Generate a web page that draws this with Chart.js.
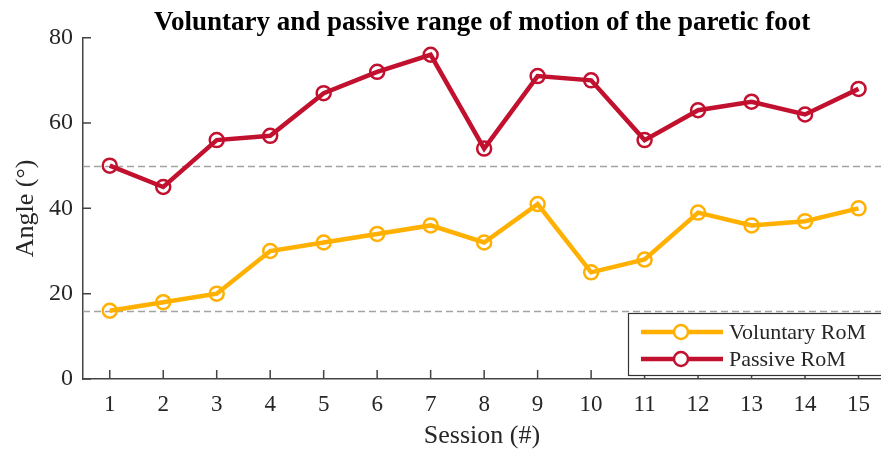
<!DOCTYPE html>
<html>
<head>
<meta charset="utf-8">
<title>Voluntary and passive range of motion</title>
<script src="https://cdn.jsdelivr.net/npm/chart.js@4.4.1/dist/chart.umd.min.js"></script>
<style>
  html, body { margin: 0; padding: 0; background: #fff; }
  #wrap { width: 881px; height: 450px; }
</style>
</head>
<body>
<div id="wrap"><canvas id="rom" width="881" height="450"></canvas></div>
<script>
  'use strict';

  // Session numbers and measured angles (degrees)
  var sessions = [1, 2, 3, 4, 5, 6, 7, 8, 9, 10, 11, 12, 13, 14, 15];
  var voluntaryRom = [16, 18, 20, 30, 32, 34, 36, 32, 41, 25, 28, 39, 36, 37, 40];
  var passiveRom = [50, 45, 56, 57, 67, 72, 76, 54, 71, 70, 56, 63, 65, 62, 68];
  var yTicks = [0, 20, 40, 60, 80];
  var refLines = [50, 16]; // dashed reference levels

  var colors = {
    voluntary: '#FFB000',
    passive: '#C2102F',
    axis: '#444444',
    text: '#262626',
    ref: '#a3a3a3'
  };
  var serif = '"Liberation Serif", "Times New Roman", serif';

  function toPoints(values) {
    return sessions.map(function (s, i) { return { x: s, y: values[i] }; });
  }

  function series(label, values, color) {
    return {
      label: label,
      data: toPoints(values),
      borderColor: color,
      backgroundColor: color,
      borderWidth: 4.5,
      pointRadius: 7,
      pointBorderWidth: 2.5,
      pointBackgroundColor: 'rgba(0,0,0,0)',
      pointBorderColor: color,
      pointHoverRadius: 7,
      tension: 0
    };
  }

  // Dashed horizontal reference lines behind the data
  var refLinePlugin = {
    id: 'refLines',
    beforeDatasetsDraw: function (chart) {
      var ctx = chart.ctx, area = chart.chartArea, y = chart.scales.y;
      ctx.save();
      ctx.strokeStyle = colors.ref;
      ctx.lineWidth = 1.3;
      ctx.setLineDash([7, 4]);
      refLines.forEach(function (v) {
        var py = Math.round(y.getPixelForValue(v)) + 0.5;
        ctx.beginPath();
        ctx.moveTo(area.left, py);
        ctx.lineTo(area.right, py);
        ctx.stroke();
      });
      ctx.restore();
    }
  };

  // Inward tick marks, like the original figure
  var tickPlugin = {
    id: 'inwardTicks',
    afterDraw: function (chart) {
      var ctx = chart.ctx, area = chart.chartArea;
      var x = chart.scales.x, y = chart.scales.y;
      ctx.save();
      ctx.strokeStyle = colors.axis;
      ctx.lineWidth = 1.5;
      ctx.beginPath();
      sessions.forEach(function (s) {
        var px = x.getPixelForValue(s);
        ctx.moveTo(px, area.bottom);
        ctx.lineTo(px, area.bottom - 9);
      });
      yTicks.forEach(function (v) {
        var py = y.getPixelForValue(v);
        ctx.moveTo(area.left, py);
        ctx.lineTo(area.left + 8, py);
      });
      ctx.stroke();
      ctx.restore();
    }
  };

  // Boxed legend in the lower right corner
  var legendPlugin = {
    id: 'boxLegend',
    afterDraw: function (chart) {
      var ctx = chart.ctx, area = chart.chartArea;
      var left = area.right - 253, top = area.bottom - 66;
      var bottom = area.bottom - 4, right = area.right + 2;
      ctx.save();
      ctx.fillStyle = '#fff';
      ctx.fillRect(left, top, right - left, bottom - top);
      ctx.strokeStyle = '#333';
      ctx.lineWidth = 1.2;
      ctx.strokeRect(left + 0.5, top + 0.5, right - left, bottom - top);

      ctx.font = '22px ' + serif;
      ctx.textBaseline = 'middle';
      chart.data.datasets.forEach(function (ds, i) {
        var cy = top + 19 + i * 27;
        ctx.strokeStyle = ds.borderColor;
        ctx.lineWidth = ds.borderWidth;
        ctx.beginPath();
        ctx.moveTo(left + 13, cy);
        ctx.lineTo(left + 95, cy);
        ctx.stroke();
        ctx.lineWidth = ds.pointBorderWidth;
        ctx.beginPath();
        ctx.arc(left + 53, cy, ds.pointRadius, 0, Math.PI * 2);
        ctx.fillStyle = '#fff';
        ctx.fill();
        ctx.stroke();
        ctx.fillStyle = colors.text;
        ctx.fillText(ds.label, left + 101, cy + 1);
      });
      ctx.restore();
    }
  };

  var ctx = document.getElementById('rom').getContext('2d');
  new Chart(ctx, {
    type: 'line',
    data: {
      datasets: [
        series('Voluntary RoM', voluntaryRom, colors.voluntary),
        series('Passive RoM', passiveRom, colors.passive)
      ]
    },
    options: {
      responsive: false,
      animation: false,
      layout: { padding: 0, autoPadding: false },
      plugins: {
        legend: { display: false },
        tooltip: { enabled: false },
        title: {
          display: true,
          text: 'Voluntary and passive range of motion of the paretic foot',
          fullSize: false,
          color: '#000',
          font: { family: serif, size: 27, weight: 'bold', lineHeight: 1.1 },
          padding: { top: 8, bottom: 0 }
        }
      },
      scales: {
        x: {
          type: 'linear',
          min: 0.5,
          max: 15.42,
          grid: { display: false, drawTicks: false },
          border: { display: true, color: colors.axis, width: 1.5 },
          ticks: {
            stepSize: 1,
            includeBounds: false,
            padding: 12,
            color: colors.text,
            font: { family: serif, size: 23 }
          },
          title: {
            display: true,
            text: 'Session (#)',
            color: colors.text,
            font: { family: serif, size: 26, lineHeight: 1.1 },
            padding: { top: 0, bottom: 0 }
          },
          afterFit: function (scale) {
            scale.height = 71;
            scale.paddingLeft = 0;
            scale.paddingRight = 0;
          }
        },
        y: {
          min: 0,
          max: 80,
          grid: { display: false, drawTicks: false },
          border: { display: true, color: colors.axis, width: 1.5 },
          ticks: {
            stepSize: 20,
            padding: 10,
            color: colors.text,
            font: { family: serif, size: 24 }
          },
          title: {
            display: true,
            text: 'Angle (°)',
            color: colors.text,
            font: { family: serif, size: 26, lineHeight: 1.1 },
            padding: { top: 12, bottom: 0 }
          },
          afterFit: function (scale) { scale.width = 83; }
        }
      }
    },
    plugins: [refLinePlugin, tickPlugin, legendPlugin]
  });
</script>
</body>
</html>
